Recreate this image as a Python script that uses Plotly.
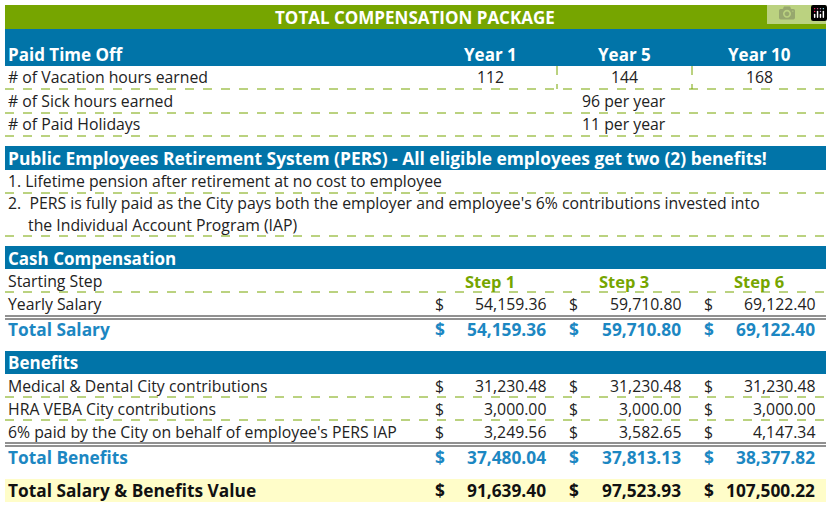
import plotly.graph_objects as go

title = "TOTAL COMPENSATION PACKAGE"
year_labels = ["Year 1", "Year 5", "Year 10"]
vacation_hours = [112, 144, 168]
sick_text = "96 per year"
holiday_text = "11 per year"
pers_title = "Public Employees Retirement System (PERS) - All eligible employees get two (2) benefits!"
pers_lines = ["1. Lifetime pension after retirement at no cost to employee",
              "2.  PERS is fully paid as the City pays both the employer and employee's 6% contributions invested into",
              "the Individual Account Program (IAP)"]
step_labels = ["Step 1", "Step 3", "Step 6"]
yearly_salary = [54159.36, 59710.80, 69122.40]
total_salary = [54159.36, 59710.80, 69122.40]
benefit_names = ["Medical & Dental City contributions", "HRA VEBA City contributions",
                 "6% paid by the City on behalf of employee's PERS IAP"]
benefit_values = [[31230.48, 31230.48, 31230.48], [3000.00, 3000.00, 3000.00], [3249.56, 3582.65, 4147.34]]
total_benefits = [37480.04, 37813.13, 38377.82]
grand_total = [91639.40, 97523.93, 107500.22]

BLUE = "#0174A8"; GREEN = "#76A500"; YEL = "#FFFDC9"; TBLUE = "#1C87C2"
FONT = "Open Sans"
BODY = 15.8; HEAD = 17; TOT = 17.3
X0, X1 = 5, 826
shapes = []; ann = []

def rect(y0, y1, color):
    shapes.append(dict(type="rect", x0=X0, x1=X1, y0=y0, y1=y1, fillcolor=color, line_width=0, layer="below"))

def dline(y, x0=X0, x1=X1):
    shapes.append(dict(type="line", x0=x0, x1=x1, y0=y, y1=y, line=dict(color=GREEN, width=1, dash="dash")))

def dbl(y):
    for yy in (y, y + 3):
        shapes.append(dict(type="line", x0=X0, x1=X1, y0=yy, y1=yy, line=dict(color="#222", width=1)))

def txt(x, y, s, size=BODY, color="#222", bold=False, anchor="left"):
    ann.append(dict(x=x, y=y, text=f"<b>{s}</b>" if bold else s, showarrow=False, xanchor=anchor,
                    yanchor="middle", font=dict(family=FONT, size=size, color=color)))

dollar_x = [433, 567, 702]
val_x = [548, 683, 817]
col_c = [490, 624, 759]

def money(y, vals, color="#222", bold=False, size=BODY):
    for dx, vx, v in zip(dollar_x, val_x, vals):
        txt(dx, y, "$", size, color, bold, "left")
        txt(vx, y, f"{v:,.2f}", size, color, bold, "right")

rect(5, 29, GREEN)
txt(415, 17, title, 17, "white", True, "center")
rect(29, 66, BLUE)
txt(6, 54, "Paid Time Off", HEAD, "white", True)
for c, l in zip(col_c, year_labels):
    txt(c, 54, l, HEAD, "white", True, "center")
txt(6, 77, "# of Vacation hours earned")
for c, v in zip(col_c, vacation_hours):
    txt(c, 77, str(v), BODY, "#222", False, "center")
for x in (557, 692):
    shapes.append(dict(type="line", x0=x, x1=x, y0=66, y1=89, line=dict(color=GREEN, width=1, dash="dash")))
dline(89)
txt(6, 101, "# of Sick hours earned"); txt(624, 101, sick_text, BODY, "#222", False, "center")
dline(113)
txt(6, 124, "# of Paid Holidays"); txt(624, 124, holiday_text, BODY, "#222", False, "center")
dline(136)
rect(146, 170, BLUE)
txt(6, 158, pers_title, 17.4, "white", True)
txt(6, 181, pers_lines[0]); dline(193)
txt(6, 203, pers_lines[1]); txt(26, 225, pers_lines[2]); dline(236)
rect(246, 269, BLUE)
txt(6, 258, "Cash Compensation", HEAD, "white", True)
txt(6, 281, "Starting Step")
for c, l in zip(col_c, step_labels):
    txt(c, 281, l, 16.5, GREEN, True, "center")
dline(292)
txt(6, 304, "Yearly Salary"); money(304, yearly_salary)
dbl(316)
txt(6, 329, "Total Salary", TOT, TBLUE, True); money(329, total_salary, TBLUE, True, TOT)
rect(351, 374, BLUE)
txt(6, 362, "Benefits", HEAD, "white", True)
for i, (n, vals) in enumerate(zip(benefit_names, benefit_values)):
    y = 386 + i * 23
    txt(6, y, n); money(y, vals)
    if i < 2:
        dline(y + 11)
dbl(443)
txt(6, 457, "Total Benefits", TOT, TBLUE, True); money(457, total_benefits, TBLUE, True, TOT)
rect(479, 502, YEL)
txt(6, 490, "Total Salary & Benefits Value", TOT, "#111", True); money(490, grand_total, "#111", True, TOT)

fig = go.Figure()
fig.update_layout(width=833, height=507, margin=dict(l=0, r=0, t=0, b=0), plot_bgcolor="white",
                  paper_bgcolor="white", shapes=shapes, annotations=ann,
                  xaxis=dict(range=[0, 833], visible=False, fixedrange=True),
                  yaxis=dict(range=[507, 0], visible=False, fixedrange=True))
fig.write_html("out.html", post_script="document.body.style.margin='0';document.body.style.overflow='hidden';")
